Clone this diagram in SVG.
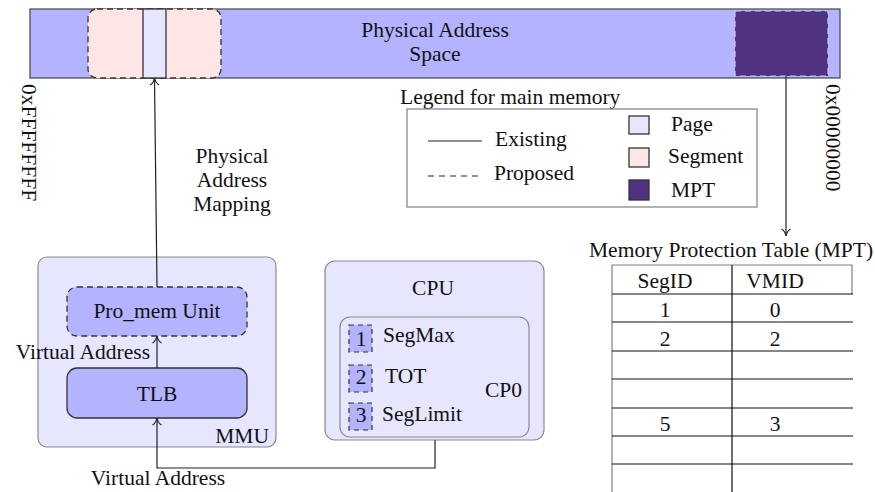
<svg xmlns="http://www.w3.org/2000/svg" width="875" height="492" viewBox="0 0 875 492">
  <style>
    text { font-family: "Liberation Serif", "Times New Roman", serif; font-size: 21.5px; fill: #111; }
    .mid { text-anchor: middle; }
    .end { text-anchor: end; }
    .box { stroke: #8a8a8a; stroke-width: 1.2; }
    .solid { stroke: #333; stroke-width: 1.3; }
    .dash { stroke: #333; stroke-width: 1.3; stroke-dasharray: 6 4; }
    .conn { fill: none; stroke: #222; stroke-width: 1.2; }
    .grid { stroke: #111; stroke-width: 1.2; }
    .frame { stroke: #808080; stroke-width: 1.2; fill: none; }
  </style>
  <defs>
    <marker id="to" viewBox="0 0 12 12" refX="10" refY="6" markerWidth="12" markerHeight="12" markerUnits="userSpaceOnUse" orient="auto">
      <path d="M3 1.5 Q5 5 10 6 Q5 7 3 10.5" fill="none" stroke="#222" stroke-width="1.2"/>
    </marker>
  </defs>

  <!-- main memory strip -->
  <g id="physical-address-space">
    <rect x="30" y="9" width="810" height="69" fill="#b3b3ff" stroke="#444" stroke-width="1.2"/>
    <text class="mid" x="435" y="37">Physical Address</text>
    <text class="mid" x="435" y="61">Space</text>
  </g>
  <g id="segment">
    <rect x="88" y="9" width="133" height="69" rx="9" fill="#ffe6e6" class="dash"/>
  </g>
  <g id="page">
    <rect x="143" y="9" width="23" height="69" fill="#e6e6ff" class="solid"/>
  </g>
  <g id="mpt-region">
    <rect x="735" y="11" width="93" height="65" fill="#4f3382" stroke="#c8c8ee" stroke-width="1.2" stroke-dasharray="6 4"/>
  </g>

  <!-- address bounds -->
  <text transform="translate(22,84) rotate(90)">0xFFFFFFFF</text>
  <text transform="translate(826,84) rotate(90)">0x00000000</text>

  <!-- legend -->
  <g id="legend">
    <text x="400" y="104">Legend for main memory</text>
    <rect x="407" y="109" width="350" height="98" class="frame"/>
    <line x1="428" y1="141" x2="482" y2="141" stroke="#222" stroke-width="1.2"/>
    <text x="495" y="146">Existing</text>
    <line x1="428" y1="176" x2="482" y2="176" stroke="#222" stroke-width="1.2" stroke-dasharray="6 5"/>
    <text x="494" y="180">Proposed</text>
    <rect x="629" y="116" width="20" height="18" fill="#e6e6ff" class="solid"/>
    <text x="671" y="131">Page</text>
    <rect x="629" y="148" width="20" height="19" fill="#ffe6e6" class="solid"/>
    <text x="668" y="163">Segment</text>
    <rect x="629" y="180" width="20" height="20" fill="#4f3382" class="solid"/>
    <text x="671" y="197">MPT</text>
  </g>

  <g id="mapping-label">
    <text class="mid" x="232" y="163">Physical</text>
    <text class="mid" x="232" y="187">Address</text>
    <text class="mid" x="232" y="211">Mapping</text>
  </g>

  <!-- MMU -->
  <g id="mmu">
    <rect x="38" y="257" width="238" height="190" rx="9" fill="#e6e6ff" class="box"/>
    <text class="end" x="269" y="443">MMU</text>
  </g>
  <g id="pro-mem-unit">
    <rect x="67" y="287" width="180" height="49" rx="10" fill="#b3b3ff" class="dash"/>
    <text class="mid" x="157" y="318">Pro_mem Unit</text>
  </g>
  <g id="tlb">
    <rect x="67" y="368" width="180" height="50" rx="10" fill="#b3b3ff" class="solid"/>
    <text class="mid" x="157" y="401">TLB</text>
  </g>
  <text class="end" x="150" y="359">Virtual Address</text>

  <!-- CPU -->
  <g id="cpu">
    <rect x="325" y="261" width="219" height="179" rx="10" fill="#e6e6ff" class="box"/>
    <text class="mid" x="433" y="295">CPU</text>
  </g>
  <g id="cp0">
    <rect x="340" y="317" width="189" height="120" rx="10" fill="#e6e6ff" class="box"/>
    <text x="485" y="397">CP0</text>
  </g>
  <g id="reg-segmax">
    <rect x="349" y="325" width="23" height="27" fill="#b3b3ff" stroke="#333" stroke-width="1.2" stroke-dasharray="5 4"/>
    <text class="mid" x="361" y="346">1</text>
    <text x="383" y="342">SegMax</text>
  </g>
  <g id="reg-tot">
    <rect x="349" y="365" width="23" height="27" fill="#b3b3ff" stroke="#333" stroke-width="1.2" stroke-dasharray="5 4"/>
    <text class="mid" x="361" y="384">2</text>
    <text x="385" y="383">TOT</text>
  </g>
  <g id="reg-seglimit">
    <rect x="349" y="403" width="23" height="27" fill="#b3b3ff" stroke="#333" stroke-width="1.2" stroke-dasharray="5 4"/>
    <text class="mid" x="361" y="422">3</text>
    <text x="382" y="421">SegLimit</text>
  </g>

  <!-- memory protection table -->
  <g id="mpt-table">
    <text x="589" y="257">Memory Protection Table (MPT)</text>
    <path class="frame" d="M612 492 V265 H852 V294"/>
    <path class="grid" d="M732 265 V492 M612 294 H853 M612 322 H853 M612 351 H853 M612 379 H853 M612 408 H853 M612 436 H853 M612 464 H853"/>
    <text class="mid" x="665" y="288">SegID</text>
    <text class="mid" x="775" y="288">VMID</text>
    <text class="mid" x="665" y="317">1</text>
    <text class="mid" x="775" y="317">0</text>
    <text class="mid" x="665" y="346">2</text>
    <text class="mid" x="775" y="346">2</text>
    <text class="mid" x="665" y="431">5</text>
    <text class="mid" x="775" y="431">3</text>
  </g>

  <!-- connectors -->
  <g id="connectors">
    <path class="conn" d="M157 287 L154.5 78" marker-end="url(#to)"/>
    <path class="conn" d="M786 76 V236" marker-end="url(#to)"/>
    <path class="conn" d="M157 368 V336" marker-end="url(#to)"/>
    <path class="conn" d="M435 440 V468 H157 V418" marker-end="url(#to)"/>
  </g>
  <text class="mid" x="158" y="485">Virtual Address</text>
</svg>
